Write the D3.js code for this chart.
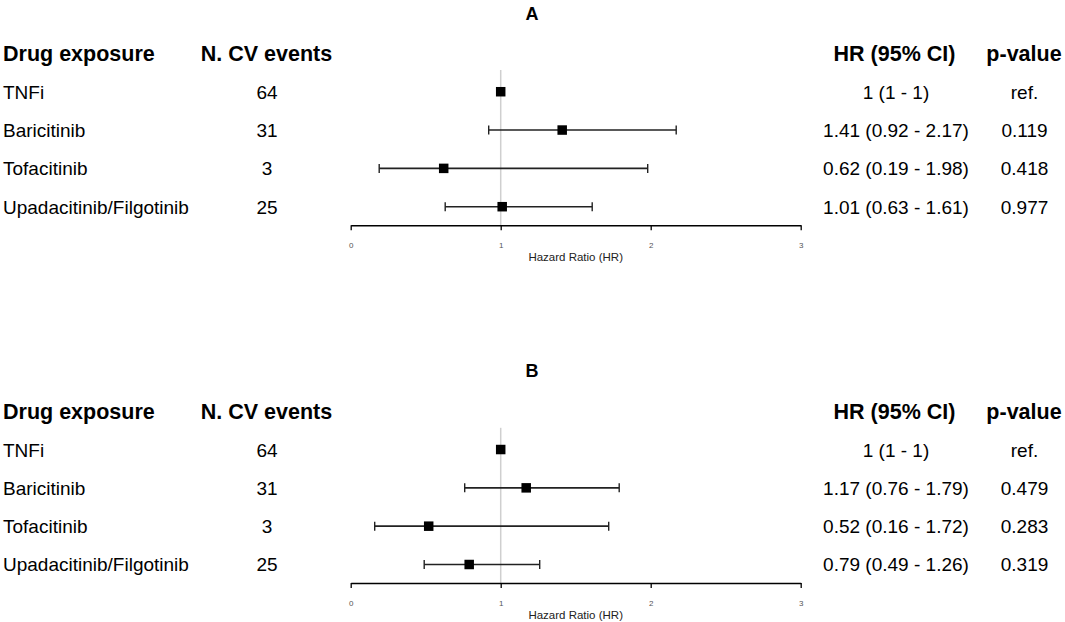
<!DOCTYPE html>
<html>
<head>
<meta charset="utf-8">
<script src="https://cdn.jsdelivr.net/npm/d3@7"></script>
<style>
  html, body { margin: 0; padding: 0; background: #fff; }
  svg { display: block; }
  text { font-family: "Liberation Sans", Arial, sans-serif; }
</style>
</head>
<body>
<div id="chart"></div>
<script>
// ---- data ----
const drugs = ["TNFi", "Baricitinib", "Tofacitinib", "Upadacitinib/Filgotinib"];
const events = [64, 31, 3, 25];
const panelTitles = ["A", "B"];
const hrA = [1, 1.41, 0.62, 1.01];
const lowA = [1, 0.92, 0.19, 0.63];
const highA = [1, 2.17, 1.98, 1.61];
const pA = ["ref.", "0.119", "0.418", "0.977"];
const hrB = [1, 1.17, 0.52, 0.79];
const lowB = [1, 0.76, 0.16, 0.49];
const highB = [1, 1.79, 1.72, 1.26];
const pB = ["ref.", "0.479", "0.283", "0.319"];
const headers = ["Drug exposure", "N. CV events", "HR (95% CI)", "p-value"];
const xTicks = [0, 1, 2, 3];
const axisTitle = "Hazard Ratio (HR)";

const panels = [
  { title: panelTitles[0], hr: hrA, low: lowA, high: highA, p: pA },
  { title: panelTitles[1], hr: hrB, low: lowB, high: highB, p: pB }
];

const W = 1065, H = 622;
const svg = d3.select("#chart").append("svg").attr("width", W).attr("height", H);

const x = d3.scaleLinear().domain([0, 3]).range([350.7, 800.7]);
const y = d3.scalePoint().domain(["__header", ...drugs]).range([53.4, 206.7]);
const panelOffset = 357.8;
const axisY = 225.3;

const fmtCI = (h, l, u) => `${h} (${l} - ${u})`;

panels.forEach((P, pi) => {
  const g = svg.append("g").attr("transform", `translate(0,${pi * panelOffset})`);

  // title
  g.append("text").attr("x", 532).attr("y", 19.5)
    .attr("text-anchor", "middle").attr("font-size", 18).attr("font-weight", "bold")
    .text(P.title);

  // headers
  const hy = y("__header") + 8;
  const hdr = g.append("g").attr("font-size", 21.5).attr("font-weight", "bold").attr("fill", "#000");
  hdr.append("text").attr("x", 3).attr("y", hy).text(headers[0]);
  hdr.append("text").attr("x", 266.5).attr("y", hy).attr("text-anchor", "middle").text(headers[1]);
  hdr.append("text").attr("x", 894.5).attr("y", hy).attr("text-anchor", "middle").text(headers[2]);
  hdr.append("text").attr("x", 1024).attr("y", hy).attr("text-anchor", "middle").text(headers[3]);

  // reference line at HR = 1
  g.append("line")
    .attr("x1", x(1)).attr("x2", x(1))
    .attr("y1", 70).attr("y2", axisY)
    .attr("stroke", "#cfcfcf").attr("stroke-width", 1.5);

  // rows
  const rows = g.selectAll(".row").data(drugs.map((d, i) => ({
    drug: d, ev: events[i], hr: P.hr[i], lo: P.low[i], hi: P.high[i], p: P.p[i]
  }))).enter().append("g").attr("class", "row");

  rows.append("text").attr("x", 3).attr("y", d => y(d.drug) + 7)
    .attr("font-size", 19).text(d => d.drug);
  rows.append("text").attr("x", 267).attr("y", d => y(d.drug) + 7)
    .attr("font-size", 19).attr("text-anchor", "middle").text(d => d.ev);
  rows.append("text").attr("x", 896).attr("y", d => y(d.drug) + 7)
    .attr("font-size", 19).attr("text-anchor", "middle").text(d => fmtCI(d.hr, d.lo, d.hi));
  rows.append("text").attr("x", 1024.5).attr("y", d => y(d.drug) + 7)
    .attr("font-size", 19).attr("text-anchor", "middle").text(d => d.p);

  // CI whiskers (skip reference)
  const ci = rows.filter(d => d.lo !== d.hi);
  ci.append("line")
    .attr("x1", d => x(d.lo)).attr("x2", d => x(d.hi))
    .attr("y1", d => y(d.drug)).attr("y2", d => y(d.drug))
    .attr("stroke", "#222").attr("stroke-width", 1.6);
  ci.append("line")
    .attr("x1", d => x(d.lo)).attr("x2", d => x(d.lo))
    .attr("y1", d => y(d.drug) - 4.5).attr("y2", d => y(d.drug) + 4.5)
    .attr("stroke", "#222").attr("stroke-width", 1.4);
  ci.append("line")
    .attr("x1", d => x(d.hi)).attr("x2", d => x(d.hi))
    .attr("y1", d => y(d.drug) - 4.5).attr("y2", d => y(d.drug) + 4.5)
    .attr("stroke", "#222").attr("stroke-width", 1.4);

  // point estimate squares
  const s = 9.5;
  rows.append("rect")
    .attr("x", d => x(d.hr) - s / 2).attr("y", d => y(d.drug) - s / 2)
    .attr("width", s).attr("height", s).attr("fill", "#000");

  // x axis
  const ax = g.append("g").attr("transform", `translate(0,${axisY})`)
    .call(d3.axisBottom(x).tickValues(xTicks).tickSize(5).tickSizeOuter(0).tickFormat(d3.format("d")));
  ax.select(".domain").attr("stroke", "#000").attr("stroke-width", 1.5);
  ax.selectAll(".tick line").attr("stroke", "#000").attr("stroke-width", 1.3);
  ax.selectAll(".tick text").attr("font-size", 8).attr("fill", "#555")
    .attr("font-family", "Liberation Sans, Arial, sans-serif").attr("y", 17).attr("dy", "0.71em");

  g.append("text").attr("x", (x.range()[0] + x.range()[1]) / 2).attr("y", 261)
    .attr("text-anchor", "middle").attr("font-size", 11.5).attr("fill", "#222")
    .text(axisTitle);
});
</script>
</body>
</html>
